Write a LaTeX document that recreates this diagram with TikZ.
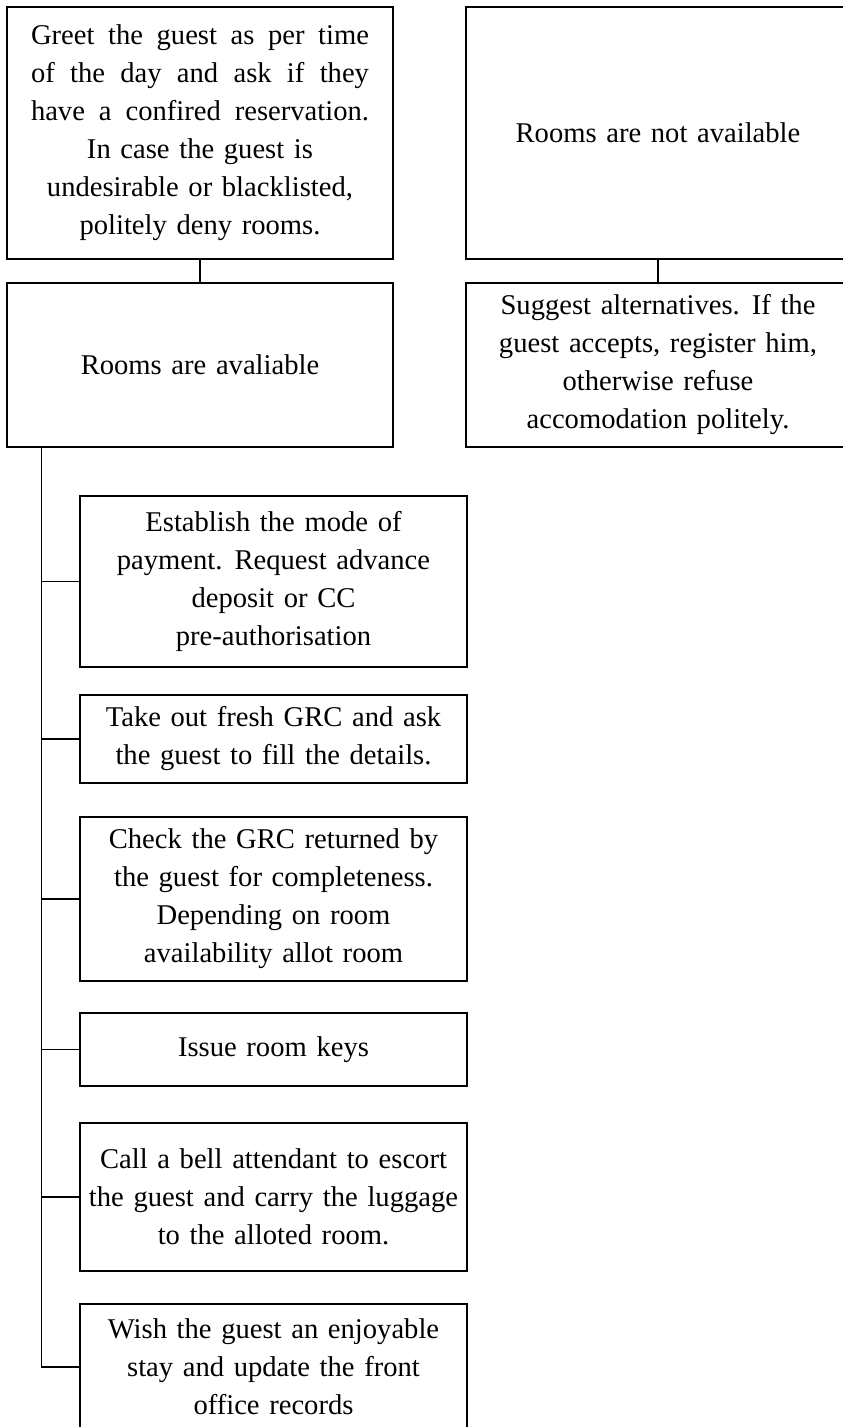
\documentclass[tikz,border=0pt]{standalone}
\usepackage{fontspec}
\setmainfont{Liberation Serif}[WordSpace=1.35]

\begin{document}
\begin{tikzpicture}[x=1pt, y=-1pt,
    every node/.style={font=\fontsize{28.6}{38}\selectfont},
    stepbox/.style={draw, line width=1.5pt, align=center, inner sep=0pt},
    link/.style={line width=1.5pt}]
  \useasboundingbox (0,0) rectangle (843,1427);
  \clip (0,0) rectangle (843,1427);
  % top row
  \node[stepbox, minimum width=386pt, minimum height=252pt] (greet) at (200,133)
    {\makebox[338pt][s]{Greet the guest as per time}\\
     \makebox[338pt][s]{of the day and ask if they}\\
     \makebox[338pt][s]{have a confired reservation.}\\
     In case the guest is\\ undesirable or blacklisted,\\ politely deny rooms.};
  \node[stepbox, minimum width=384pt, minimum height=252pt] (notavail) at (658,133)
    {Rooms are not available};
  \node[stepbox, minimum width=386pt, minimum height=164pt] (avail) at (200,365)
    {Rooms are avaliable};
  \node[stepbox, minimum width=384pt, minimum height=164pt] (suggest) at (658,365)
    {Suggest alternatives. If the\\ guest accepts, register him,\\ otherwise refuse\\ accomodation politely.};
  \draw[link] (greet) -- (avail);
  \draw[link] (notavail) -- (suggest);
  % steps when rooms are available
  \node[stepbox, minimum width=387pt, minimum height=171pt] (pay) at (273.5,581.5)
    {Establish the mode of\\ payment. Request advance\\ deposit or CC\\ pre-authorisation};
  \node[stepbox, minimum width=387pt, minimum height=88pt] (grc) at (273.5,739)
    {Take out fresh GRC and ask\\ the guest to fill the details.};
  \node[stepbox, minimum width=387pt, minimum height=164pt] (check) at (273.5,899)
    {Check the GRC returned by\\ the guest for completeness.\\ Depending on room\\ availability allot room};
  \node[stepbox, minimum width=387pt, minimum height=73pt] (keys) at (273.5,1049.5)
    {Issue room keys};
  \node[stepbox, minimum width=387pt, minimum height=148pt] (bell) at (273.5,1197)
    {Call a bell attendant to escort\\ the guest and carry the luggage\\ to the alloted room.};
  \node[stepbox, minimum width=387pt, minimum height=126pt] (wish) at (273.5,1367)
    {Wish the guest an enjoyable\\ stay and update the front\\ office records};
  % spine
  \draw[link] (avail.south west) ++(35,0) coordinate (spine) -- (spine |- wish.west) -- (wish.west);
  \foreach \b in {pay,grc,check,keys,bell}
    \draw[link] (spine |- \b.west) -- (\b.west);
\end{tikzpicture}
\end{document}
